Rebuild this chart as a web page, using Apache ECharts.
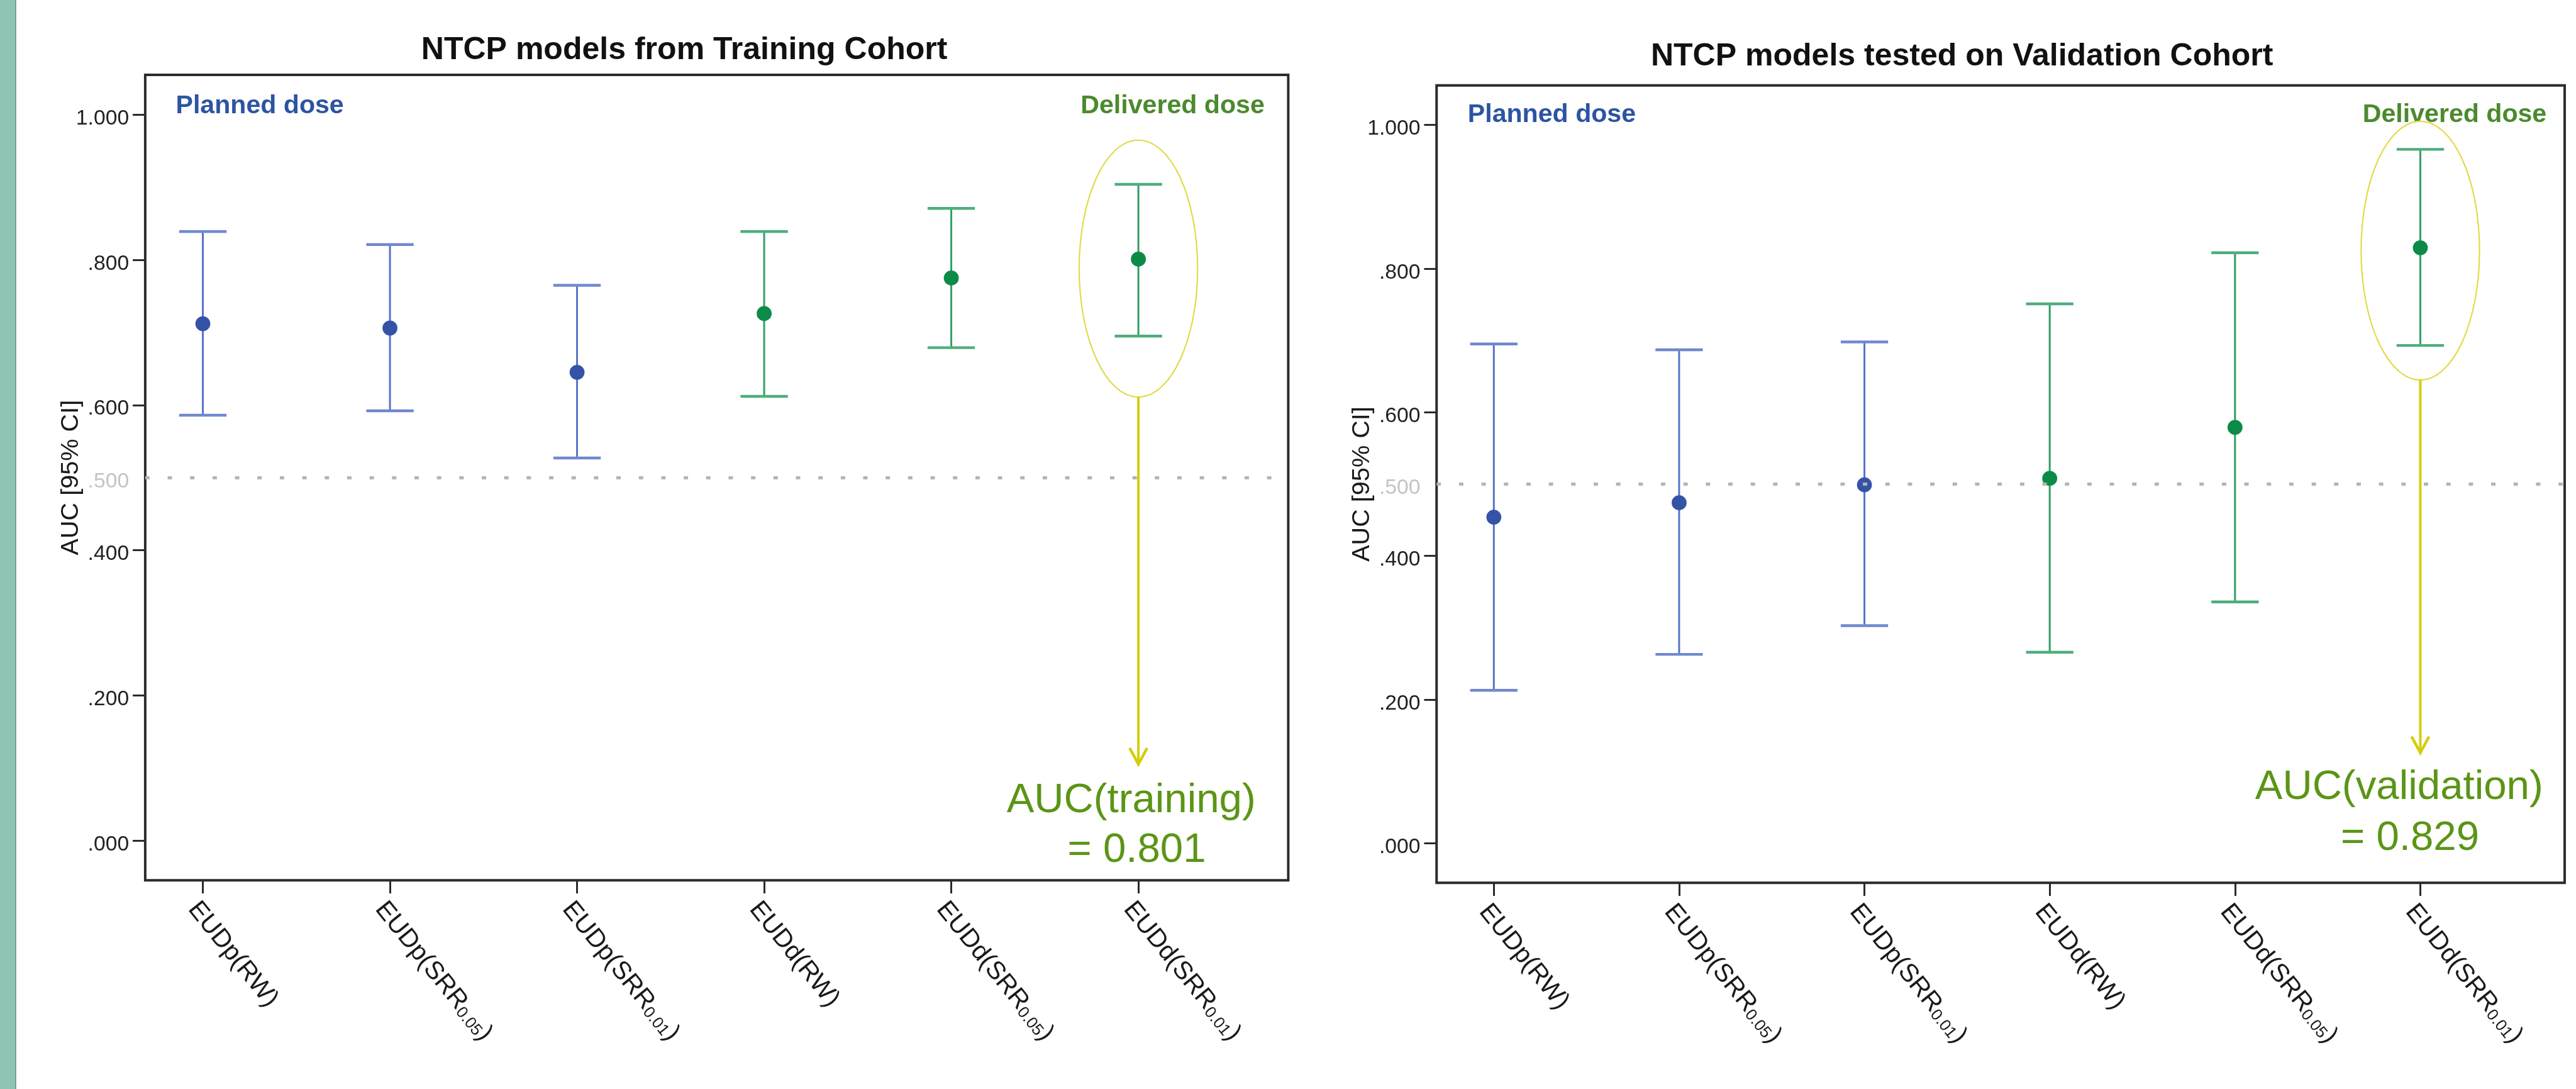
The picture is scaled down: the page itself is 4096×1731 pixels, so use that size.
<!DOCTYPE html>
<html>
<head>
<meta charset="utf-8">
<script src="https://cdn.jsdelivr.net/npm/echarts@6/dist/echarts.min.js"></script>
<style>
html,body{margin:0;padding:0;background:#fff;overflow:hidden}
#c{width:4096px;height:1731px}
</style>
</head>
<body>
<div id="c"></div>
<script>
// ---------------- data ----------------
const categories = ['EUDp(RW)', 'EUDp(SRR0.05)', 'EUDp(SRR0.01)', 'EUDd(RW)', 'EUDd(SRR0.05)', 'EUDd(SRR0.01)'];
const categoryLabels = ['{m|EUDp(RW)}', '{m|EUDp(SRR}{s|0.05}{m|)}', '{m|EUDp(SRR}{s|0.01}{m|)}',
                        '{m|EUDd(RW)}', '{m|EUDd(SRR}{s|0.05}{m|)}', '{m|EUDd(SRR}{s|0.01}{m|)}'];
const doseGroup = ['planned', 'planned', 'planned', 'delivered', 'delivered', 'delivered'];

const trainAUC   = [0.712, 0.706, 0.645, 0.726, 0.775, 0.801];
const trainLower = [0.586, 0.592, 0.527, 0.612, 0.679, 0.695];
const trainUpper = [0.839, 0.821, 0.765, 0.839, 0.871, 0.904];

const validAUC   = [0.454, 0.474, 0.499, 0.508, 0.579, 0.829];
const validLower = [0.213, 0.263, 0.303, 0.266, 0.336, 0.693];
const validUpper = [0.695, 0.687, 0.698, 0.751, 0.822, 0.966];

const yTickValues  = [0, 0.2, 0.4, 0.6, 0.8, 1.0];
const yLabelValues = [0, 0.2, 0.4, 0.5, 0.6, 0.8, 1.0];
const chanceLevel = 0.5;

const panelTitles = ['NTCP models from Training Cohort', 'NTCP models tested on Validation Cohort'];
const yAxisName = 'AUC [95% CI]';
const groupLabels = ['Planned dose', 'Delivered dose'];
const aucLines = [['AUC(training)', '= 0.801'], ['AUC(validation)', '= 0.829']];

// annotation anchors (data units) for the highlighted model
const highlightIndex = 5;
const ellipseCenter = [0.788, 0.825];
const ellipseHalfHeight = [0.177, 0.180];
const arrowEnd = [0.105, 0.126];
const aucBaselines = [[0.0345, -0.034], [0.058, -0.0135]];

// ---------------- layout / style ----------------
const S = 0.991;
const px = v => v * S;
const FONT = '"Liberation Sans", Arial, Helvetica, sans-serif';

const C = {
  bluePt: '#3553a6', blueLine: '#5672c8', blueCap: '#7088d0',
  greenPt: '#0b8b47', greenLine: '#2f9d62', greenCap: '#4eae7d',
  planned: '#2d54a2', delivered: '#4b8a2e', auc: '#5b9516',
  ellipse: '#e3da48', arrow: '#d5cd0b', ref: '#b4b4b4', axis: '#2b2b2b', text: '#1a1a1a'
};

const grids = [
  { left: px(233), top: px(120), width: px(1834), height: px(1292) },
  { left: px(2305), top: px(137), width: px(1810), height: px(1279) }
];
const xRanges = [[-0.308, 5.801], [-0.309, 5.779]];
const yRange = [-0.055, 1.055];
const aucTextOffsets = [[-11.5, -2.5], [-34, -16.5]];

const catIdx = categories.map((_, i) => i);
const lowers = [trainLower, validLower];
const uppers = [trainUpper, validUpper];
const aucs = [trainAUC, validAUC];

function yFmt(v) {
  const s = Number(v).toFixed(3).replace(/^0\./, '.');
  return Math.abs(v - chanceLevel) < 1e-9 ? '{g|' + s + '}' : '{n|' + s + '}';
}

function errorBarSeries(k) {
  return {
    type: 'custom', xAxisIndex: k, yAxisIndex: k, silent: true, z: 2,
    data: lowers[k].map((l, i) => [i, l, uppers[k][i]]),
    encode: { x: 0, y: [1, 2] },
    renderItem: function (params, api) {
      const i = api.value(0);
      const lo = api.coord([i, api.value(1)]);
      const hi = api.coord([i, api.value(2)]);
      const planned = doseGroup[i] === 'planned';
      const lc = planned ? C.blueLine : C.greenLine;
      const cc = planned ? C.blueCap : C.greenCap;
      const hw = px(38);
      return {
        type: 'group',
        children: [
          { type: 'line', shape: { x1: lo[0], y1: lo[1], x2: hi[0], y2: hi[1] }, style: { stroke: lc, lineWidth: px(3) } },
          { type: 'line', shape: { x1: hi[0] - hw, y1: hi[1], x2: hi[0] + hw, y2: hi[1] }, style: { stroke: cc, lineWidth: px(4.5) } },
          { type: 'line', shape: { x1: lo[0] - hw, y1: lo[1], x2: lo[0] + hw, y2: lo[1] }, style: { stroke: cc, lineWidth: px(4.5) } }
        ]
      };
    },
    markLine: {
      silent: true, symbol: 'none', label: { show: false }, animation: false,
      lineStyle: { color: C.ref, width: px(5), type: [px(7), px(29)], opacity: 1 },
      data: [{ yAxis: chanceLevel }]
    }
  };
}

function pointSeries(k) {
  return {
    type: 'scatter', xAxisIndex: k, yAxisIndex: k, silent: true, z: 4,
    data: aucs[k].map((v, i) => [i, v]),
    symbol: 'circle', symbolSize: px(24),
    itemStyle: { opacity: 1, color: p => doseGroup[p.dataIndex] === 'planned' ? C.bluePt : C.greenPt }
  };
}

function annotationSeries(k) {
  return {
    type: 'custom', xAxisIndex: k, yAxisIndex: k, silent: true, z: 5,
    data: [[highlightIndex, ellipseCenter[k], ellipseHalfHeight[k], arrowEnd[k], aucBaselines[k][0], aucBaselines[k][1]]],
    encode: { x: 0, y: 1 },
    renderItem: function (params, api) {
      const x = api.value(0);
      const c = api.coord([x, api.value(1)]);
      const b = api.coord([x, api.value(1) - api.value(2)]);
      const e = api.coord([x, api.value(3)]);
      const t1 = api.coord([x, api.value(4)]);
      const t2 = api.coord([x, api.value(5)]);
      const ry = b[1] - c[1];
      const fs = px(66);
      const mid = fs * 0.3465;
      const txt = (s, xx, yy) => ({
        type: 'text', x: xx, y: yy,
        style: { text: s, fill: C.auc, font: 'normal ' + fs + 'px ' + FONT,
                 align: 'center', textAlign: 'center', verticalAlign: 'middle', textVerticalAlign: 'middle' }
      });
      return {
        type: 'group',
        children: [
          { type: 'ellipse', shape: { cx: c[0], cy: c[1], rx: px(95), ry: ry }, style: { fill: 'none', stroke: C.ellipse, lineWidth: px(2.2) } },
          { type: 'line', shape: { x1: c[0], y1: b[1], x2: c[0], y2: e[1] - px(2) }, style: { stroke: C.arrow, lineWidth: px(4) } },
          { type: 'polyline', shape: { points: [[c[0] - px(14), e[1] - px(26)], [c[0], e[1]], [c[0] + px(14), e[1] - px(26)]] },
            style: { stroke: C.arrow, lineWidth: px(4.5), fill: 'none' } },
          txt(aucLines[k][0], c[0] + px(aucTextOffsets[k][0]), t1[1] - mid),
          txt(aucLines[k][1], c[0] + px(aucTextOffsets[k][1]), t2[1] - mid)
        ]
      };
    }
  };
}

function textEl(s, x, y, size, color, align, weight) {
  return {
    type: 'text', x: x, y: y, silent: true,
    style: { text: s, fill: color, font: weight + ' ' + size + 'px ' + FONT,
             align: align, textAlign: align, verticalAlign: 'middle', textVerticalAlign: 'middle' }
  };
}

const titleFs = px(50.5);
const groupFs = px(41.5);
const option = {
  animation: false,
  backgroundColor: '#ffffff',
  grid: grids.map(g => Object.assign({ show: true, borderColor: C.axis, borderWidth: px(4), backgroundColor: 'transparent',
                                       containLabel: false, outerBoundsMode: 'none' }, g)),
  xAxis: [0, 1].map(k => ({
    type: 'value', gridIndex: k, min: xRanges[k][0], max: xRanges[k][1], position: 'bottom',
    axisLine: { show: false, onZero: false },
    splitLine: { show: false },
    axisTick: { show: true, inside: false, length: px(21), customValues: catIdx, lineStyle: { color: C.axis, width: px(3) } },
    axisLabel: {
      show: true, customValues: catIdx, rotate: -51, align: 'left', verticalAlign: 'top', margin: px(26.5),
      formatter: v => categoryLabels[Math.round(v)],
      rich: {
        m: { fontFamily: FONT, fontSize: px(41), lineHeight: px(41), verticalAlign: 'top', color: C.text },
        s: { fontFamily: FONT, fontSize: px(26), lineHeight: px(14), verticalAlign: 'bottom', color: C.text }
      }
    }
  })),
  yAxis: [0, 1].map(k => ({
    type: 'value', gridIndex: k, min: yRange[0], max: yRange[1], position: 'left',
    name: yAxisName, nameLocation: 'middle', nameGap: px(99), nameMoveOverlap: false,
    nameTextStyle: { fontFamily: FONT, fontSize: px(40), color: C.text },
    axisLine: { show: false, onZero: false },
    splitLine: { show: false },
    axisTick: { show: true, inside: false, length: px(20), customValues: yTickValues, lineStyle: { color: C.axis, width: px(3) } },
    axisLabel: {
      show: true, customValues: yLabelValues, margin: px(26), padding: [px(13), 0, 0, 0],
      formatter: yFmt,
      rich: {
        n: { fontFamily: FONT, fontSize: px(34), color: '#222' },
        g: { fontFamily: FONT, fontSize: px(34), color: '#c4c4c4' }
      }
    }
  })),
  series: [
    errorBarSeries(0), pointSeries(0), annotationSeries(0),
    errorBarSeries(1), pointSeries(1), annotationSeries(1)
  ],
  graphic: [
    { type: 'rect', silent: true, shape: { x: 0, y: 0, width: px(24), height: 1731 }, style: { fill: '#8ec3b5' } },
    { type: 'rect', silent: true, shape: { x: px(24), y: 0, width: px(2), height: 1731 }, style: { fill: '#5d9d8d' } },
    textEl(panelTitles[0], px(1098), px(98) - titleFs * 0.3465, titleFs, '#111', 'center', 'bold'),
    textEl(panelTitles[1], px(3148), px(109) - titleFs * 0.3465, titleFs, '#111', 'center', 'bold'),
    textEl(groupLabels[0], px(282), px(185) - groupFs * 0.3465, groupFs, C.planned, 'left', 'bold'),
    textEl(groupLabels[1], px(2029), px(185) - groupFs * 0.3465, groupFs, C.delivered, 'right', 'bold'),
    textEl(groupLabels[0], px(2355), px(199) - groupFs * 0.3465, groupFs, C.planned, 'left', 'bold'),
    textEl(groupLabels[1], px(4086), px(199) - groupFs * 0.3465, groupFs, C.delivered, 'right', 'bold')
  ]
};

const chart = echarts.init(document.getElementById('c'), null, { renderer: 'canvas' });
chart.setOption(option);
</script>
</body>
</html>
